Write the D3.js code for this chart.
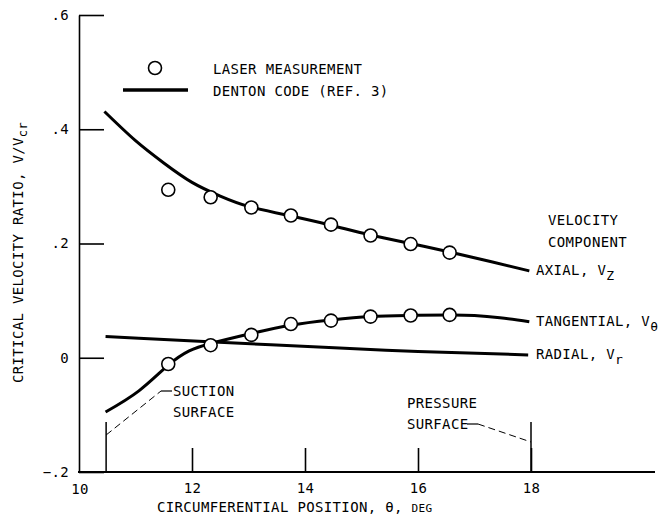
<!DOCTYPE html>
<html>
<head>
<meta charset="utf-8">
<script src="https://cdn.jsdelivr.net/npm/d3@7"></script>
<style>
  body { margin: 0; background: #fff; }
  svg { display: block; }
  text { font-family: "DejaVu Sans Mono", monospace; font-size: 14px; fill: #000; letter-spacing: 0.35px; }
</style>
</head>
<body>
<svg width="660" height="516"></svg>
<script>
const xTicks = [10, 12, 14, 16, 18]
const yTicks = [-0.2, 0, 0.2, 0.4, 0.6]

// laser measurements
const measTheta = [11.58, 12.33, 13.05, 13.75, 14.46, 15.16, 15.87, 16.56]
const measAxial = [0.294, 0.281, 0.263, 0.249, 0.233, 0.214, 0.199, 0.184]
const measTangential = [-0.011, 0.022, 0.040, 0.059, 0.065, 0.072, 0.074, 0.075]

// Denton code curves
const axialTheta = [10.45, 11.0, 11.5, 12.0, 12.5, 13.0, 13.75, 14.46, 15.16, 15.87, 16.56, 17.3, 17.97]
const axialV = [0.431, 0.380, 0.341, 0.307, 0.283, 0.265, 0.248, 0.232, 0.215, 0.200, 0.185, 0.168, 0.152]
const tangTheta = [10.47, 11.06, 11.58, 11.95, 12.33, 13.03, 13.75, 14.46, 15.16, 15.87, 16.56, 17.0, 17.45, 17.97]
const tangV = [-0.095, -0.058, -0.013, 0.012, 0.025, 0.042, 0.057, 0.066, 0.072, 0.074, 0.075, 0.074, 0.070, 0.063]
const radTheta = [10.47, 11.06, 12.48, 14.61, 16.0, 17.95]
const radV = [0.037, 0.034, 0.027, 0.017, 0.011, 0.005]

const suctionTheta = 10.48
const pressureTheta = 18

const svg = d3.select('svg')
const x = d3.scaleLinear().domain([10, 18]).range([79, 531])
const y = d3.scaleLinear().domain([-0.2, 0.6]).range([472, 15])

const fmt = d => d === 0 ? '0' : d3.format('.1f')(d).replace('0.', '.')

// Axes

const gy = svg.append('g').attr('transform', `translate(${x(10)},0)`)
  .call(d3.axisLeft(y).tickValues(yTicks).tickFormat(fmt).tickSizeInner(-25).tickSizeOuter(0).tickPadding(10))
gy.attr('font-family', null).attr('font-size', null)
gy.selectAll('line, path').attr('stroke', '#000').attr('stroke-width', 1.6)

const gx = svg.append('g').attr('transform', `translate(0,${y(-0.2)})`)
  .call(d3.axisBottom(x).tickValues(xTicks.slice(1)).tickFormat(d3.format('d')).tickSizeInner(-24).tickSizeOuter(0).tickPadding(8))
gx.attr('font-family', null).attr('font-size', null)
gx.select('.domain').remove()
gx.selectAll('line').attr('stroke', '#000').attr('stroke-width', 1.6)
gx.selectAll('text').attr('dy', '0.9em')

svg.append('line')
  .attr('x1', x(10) - 1).attr('x2', 655)
  .attr('y1', y(-0.2)).attr('y2', y(-0.2))
  .attr('stroke', '#000').attr('stroke-width', 2)

svg.append('text').attr('x', x(10) + 1).attr('y', y(-0.2) + 22)
  .attr('text-anchor', 'middle').text(xTicks[0])

// axis titles
const xt = svg.append('text').attr('x', 157).attr('y', 512)
xt.append('tspan').text('CIRCUMFERENTIAL POSITION, θ, ')
xt.append('tspan').style('font-size', '11px').text('DEG')

const yt = svg.append('text').attr('transform', 'translate(23,383) rotate(-90)')
yt.append('tspan').text('CRITICAL VELOCITY RATIO, V/V')
yt.append('tspan').attr('dy', 4).style('font-size', '12px').text('cr')

// Surface markers

svg.selectAll('.marker').data([suctionTheta, pressureTheta]).enter().append('line')
  .attr('x1', d => x(d)).attr('x2', d => x(d))
  .attr('y1', y(-0.2)).attr('y2', y(-0.2) - 50)
  .attr('stroke', '#000').attr('stroke-width', 1.5)

const dashed = (pts) => svg.append('path')
  .attr('d', d3.line()(pts))
  .attr('fill', 'none').attr('stroke', '#000').attr('stroke-width', 1)
  .attr('stroke-dasharray', '7,4')

dashed([[x(suctionTheta), 435], [161, 391]])
svg.append('line').attr('x1', 161).attr('x2', 172).attr('y1', 391).attr('y2', 391)
  .attr('stroke', '#000').attr('stroke-width', 1.2)
svg.append('text').attr('x', 173).attr('y', 396).text('SUCTION')
svg.append('text').attr('x', 173).attr('y', 417).text('SURFACE')

dashed([[478, 424], [x(pressureTheta), 442]])
svg.append('line').attr('x1', 467).attr('x2', 478).attr('y1', 424).attr('y2', 424)
  .attr('stroke', '#000').attr('stroke-width', 1.2)
svg.append('text').attr('x', 407).attr('y', 408).text('PRESSURE')
svg.append('text').attr('x', 407).attr('y', 429).text('SURFACE')

// Curves

const line = d3.line().x(d => x(d[0])).y(d => y(d[1])).curve(d3.curveNatural)
const curves = [
  d3.zip(axialTheta, axialV),
  d3.zip(tangTheta, tangV),
  d3.zip(radTheta, radV)
]
svg.selectAll('.curve').data(curves).enter().append('path')
  .attr('class', 'curve')
  .attr('d', line)
  .attr('fill', 'none').attr('stroke', '#000').attr('stroke-width', 3)

const meas = d3.zip(measTheta, measAxial).concat(d3.zip(measTheta, measTangential))
svg.selectAll('.meas').data(meas).enter().append('circle')
  .attr('cx', d => x(d[0])).attr('cy', d => y(d[1])).attr('r', 6.5)
  .attr('fill', '#fff').attr('stroke', '#000').attr('stroke-width', 1.6)

// Curve labels

const labels = [
  { text: 'AXIAL, V', sub: 'Z', v: axialV[axialV.length - 1] },
  { text: 'TANGENTIAL, V', sub: 'θ', v: tangV[tangV.length - 1] },
  { text: 'RADIAL, V', sub: 'r', v: radV[radV.length - 1] }
]
labels.forEach(l => {
  const t = svg.append('text').attr('x', 536).attr('y', y(l.v) + 4)
  t.append('tspan').text(l.text)
  t.append('tspan').attr('dy', 5).style('font-size', '13px').text(l.sub)
})
svg.append('text').attr('x', 548).attr('y', 225).text('VELOCITY')
svg.append('text').attr('x', 548).attr('y', 247).text('COMPONENT')

// Legend

svg.append('circle').attr('cx', 155).attr('cy', 68).attr('r', 6.5)
  .attr('fill', '#fff').attr('stroke', '#000').attr('stroke-width', 1.6)
svg.append('line').attr('x1', 123).attr('x2', 188).attr('y1', 90).attr('y2', 90)
  .attr('stroke', '#000').attr('stroke-width', 3.5)
svg.append('text').attr('x', 213).attr('y', 74).text('LASER MEASUREMENT')
svg.append('text').attr('x', 213).attr('y', 96).text('DENTON CODE (REF. 3)')
</script>
</body>
</html>
